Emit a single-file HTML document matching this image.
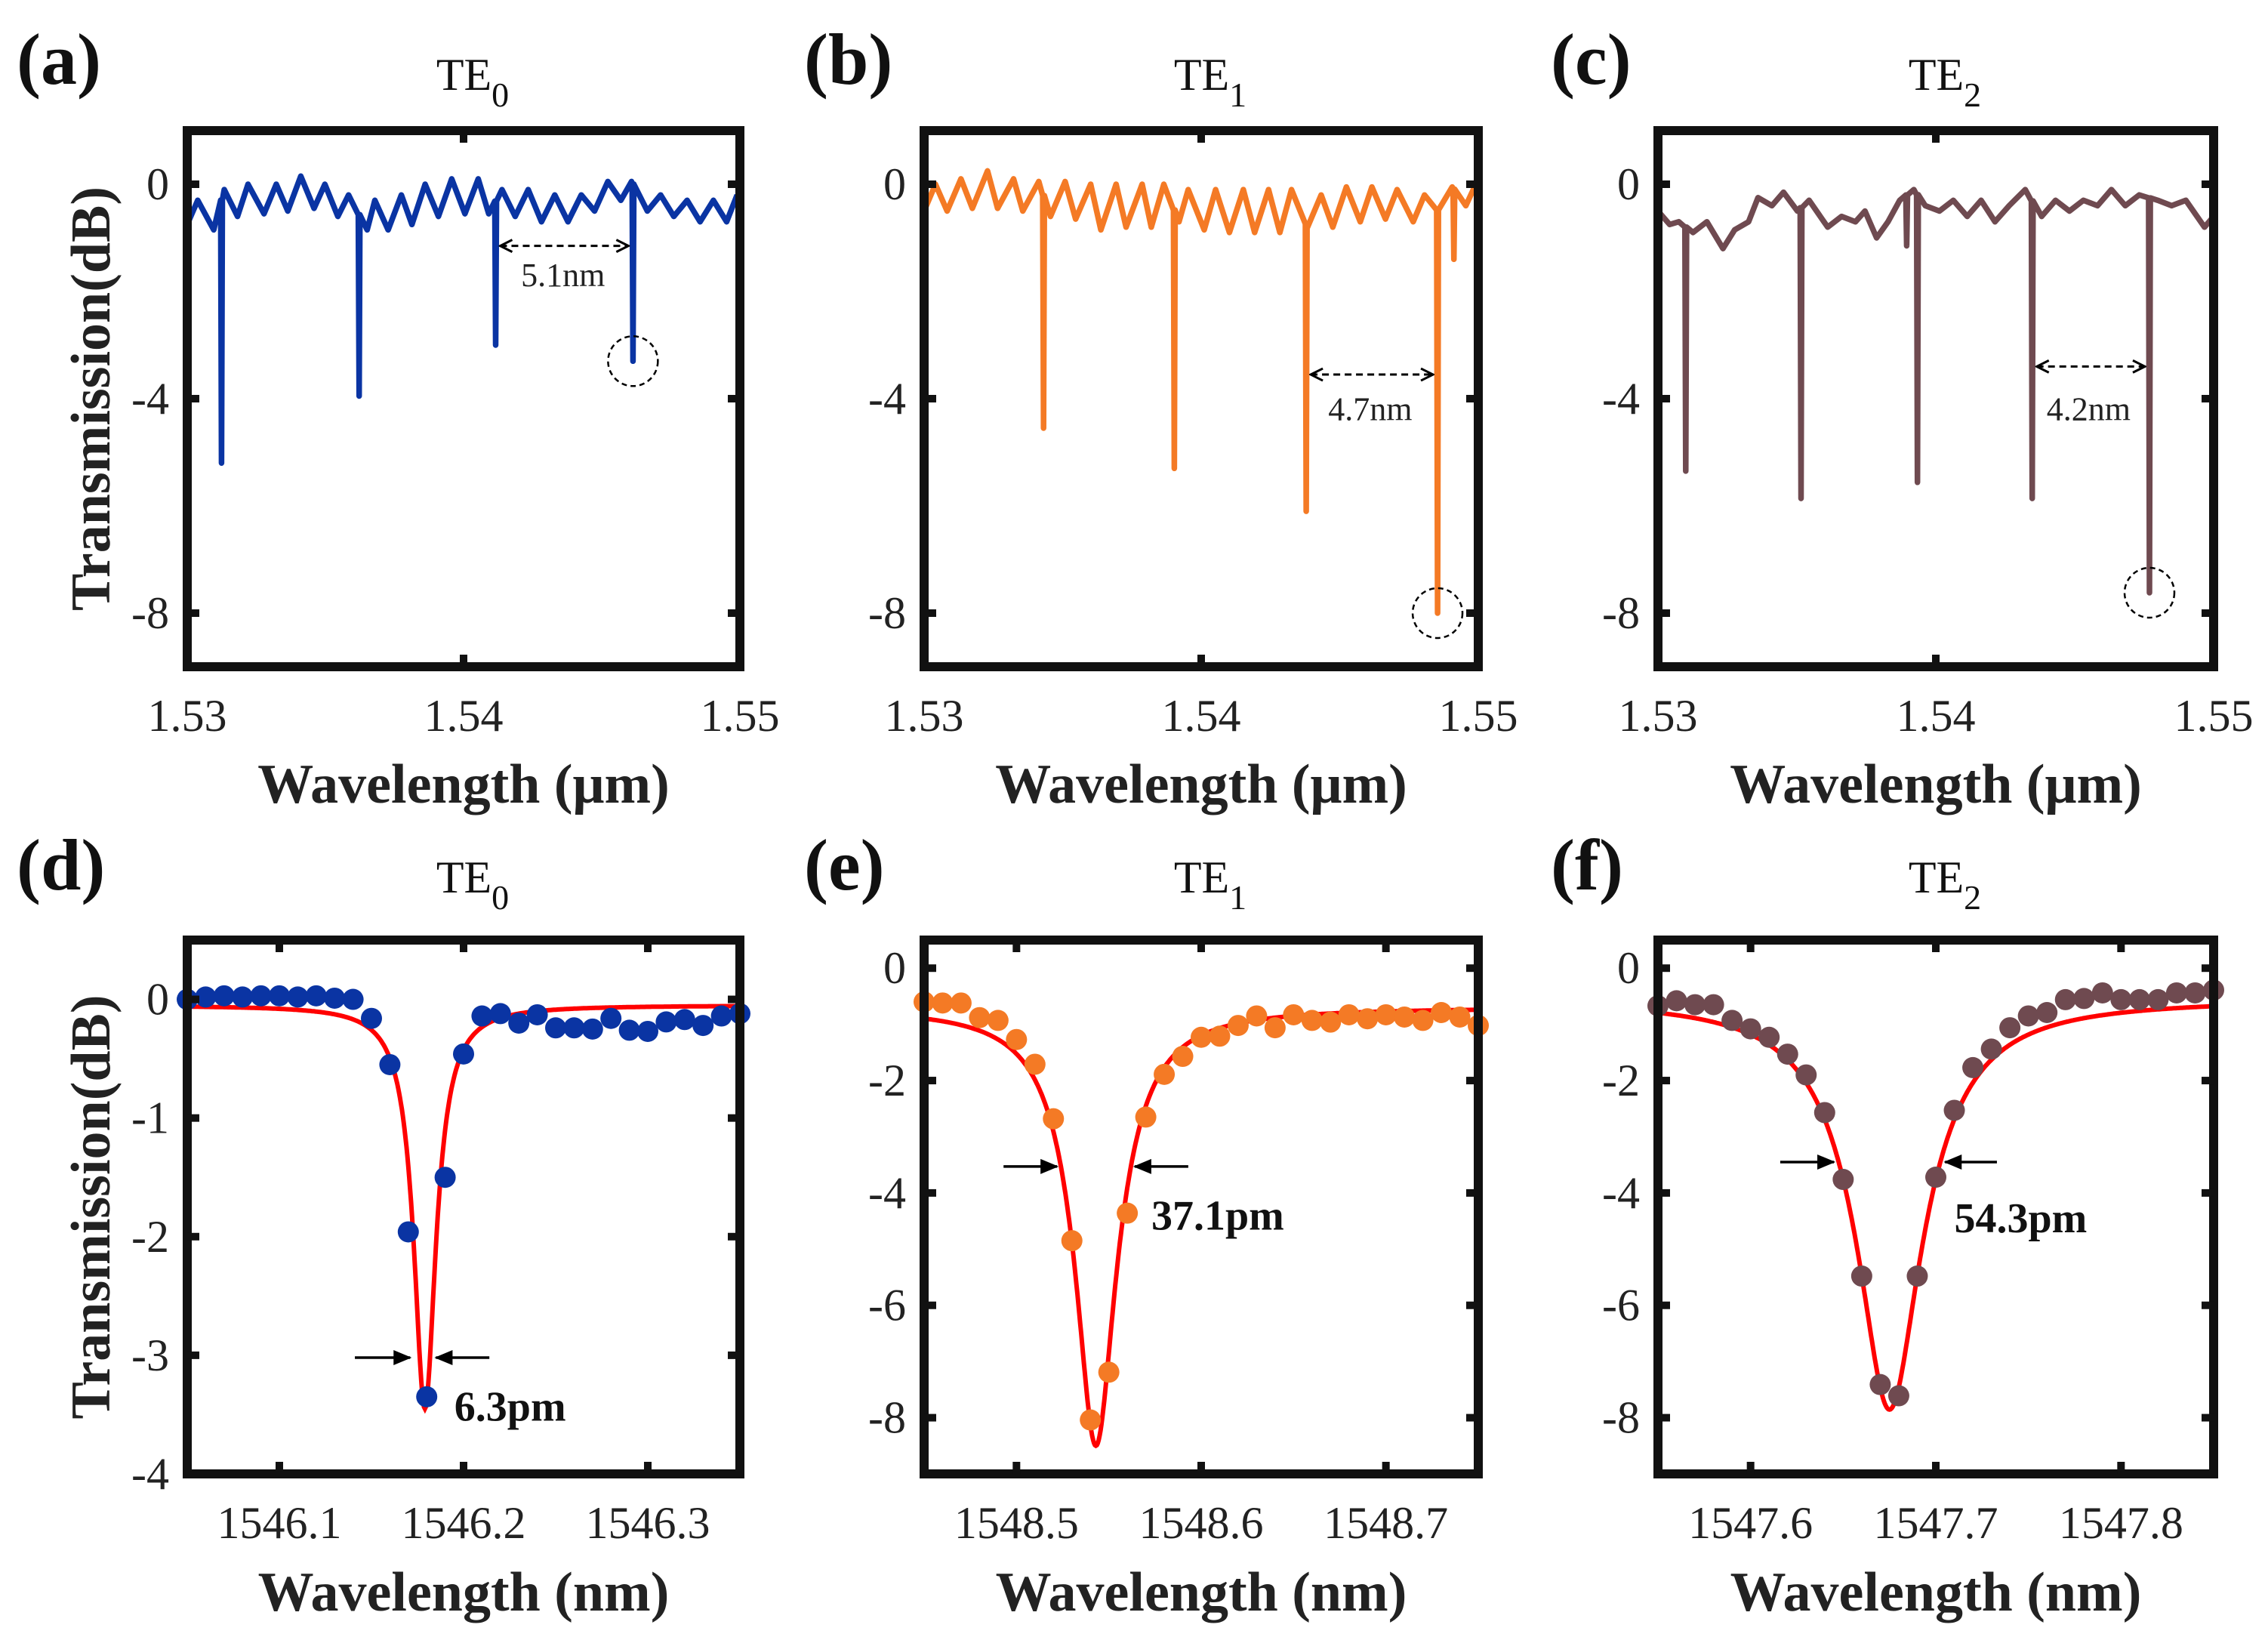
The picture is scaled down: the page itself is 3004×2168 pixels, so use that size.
<!DOCTYPE html>
<html><head><meta charset="utf-8">
<style>
html,body{margin:0;padding:0;background:#fff;}
svg{display:block;font-family:"Liberation Serif",serif;}
</style></head>
<body>
<svg id="fig" width="3004" height="2168" viewBox="0 0 3004 2168" xmlns="http://www.w3.org/2000/svg">
<defs>
<marker id="chev" viewBox="0 0 20 20" refX="18" refY="10" markerWidth="20" markerHeight="20" markerUnits="userSpaceOnUse" orient="auto-start-reverse">
<path d="M2,2 L18,10 L2,18" fill="none" stroke="#000" stroke-width="3"/>
</marker>
<marker id="tri" viewBox="0 0 24 24" refX="22" refY="12" markerWidth="24" markerHeight="24" markerUnits="userSpaceOnUse" orient="auto">
<path d="M0,2 L24,12 L0,22 Z" fill="#000"/>
</marker>
</defs>
</svg>
<script>
// ---------- data: top row spectra ----------
const aRippleX=[1.53,1.53038,1.53096,1.53134,1.53182,1.5322,1.53278,1.53322,1.53364,1.53411,1.53459,1.53498,1.53545,1.53584,1.53651,1.53679,1.53727,1.53775,1.53813,1.53861,1.53909,1.53957,1.54005,1.54053,1.54091,1.54139,1.54187,1.54234,1.54282,1.5433,1.54378,1.54426,1.54474,1.54522,1.54569,1.54608,1.54665,1.54713,1.54761,1.54809,1.54856,1.54904,1.54952,1.5499];
const aRippleY=[-0.75,-0.3,-0.85,-0.1,-0.6,0.0,-0.55,0.0,-0.5,0.15,-0.45,0.0,-0.6,-0.2,-0.85,-0.3,-0.85,-0.2,-0.75,0.0,-0.6,0.1,-0.55,0.1,-0.55,-0.1,-0.6,-0.1,-0.7,-0.2,-0.7,-0.2,-0.5,0.05,-0.3,0.05,-0.5,-0.2,-0.6,-0.3,-0.7,-0.3,-0.7,-0.2];
const aDipX=[1.53124,1.53622,1.54116,1.54613];
const aDipY=[-5.2,-3.95,-3.0,-3.3];

const bRippleX=[1.53,1.53041,1.53083,1.53133,1.53174,1.53229,1.53265,1.53323,1.53356,1.53414,1.53456,1.53509,1.53547,1.53601,1.53638,1.53693,1.53729,1.53787,1.5382,1.53865,1.5392,1.53953,1.54011,1.54052,1.54102,1.54152,1.54193,1.54243,1.54284,1.54326,1.54384,1.54433,1.54475,1.54524,1.54574,1.54616,1.54665,1.54707,1.54765,1.54806,1.54856,1.54906,1.54955,1.55];
const bRippleY=[-0.5,0.0,-0.5,0.1,-0.45,0.25,-0.45,0.1,-0.5,0.05,-0.6,0.05,-0.65,0.0,-0.85,0.0,-0.8,0.0,-0.8,0.0,-0.7,-0.1,-0.85,-0.1,-0.9,-0.1,-0.9,-0.1,-0.9,-0.1,-0.8,-0.2,-0.8,-0.05,-0.7,-0.05,-0.65,-0.1,-0.7,-0.2,-0.5,-0.05,-0.4,0.1];
const bDipX=[1.53431,1.53903,1.54379,1.54853,1.54912];
const bDipY=[-4.55,-5.3,-6.1,-8.0,-1.4];

const cRippleX=[1.53,1.53042,1.53075,1.53126,1.53176,1.53234,1.53276,1.53326,1.5336,1.5341,1.53452,1.53502,1.53544,1.53611,1.53661,1.53711,1.53745,1.53787,1.53828,1.5387,1.53921,1.53962,1.54013,1.54063,1.54113,1.54163,1.54213,1.54264,1.54322,1.54381,1.54431,1.54481,1.54531,1.54582,1.54632,1.54682,1.54732,1.54799,1.54849,1.549,1.54967,1.55];
const cRippleY=[-0.5,-0.75,-0.7,-0.9,-0.7,-1.2,-0.85,-0.7,-0.25,-0.4,-0.15,-0.5,-0.3,-0.8,-0.6,-0.7,-0.5,-1.0,-0.7,-0.3,-0.1,-0.4,-0.5,-0.3,-0.6,-0.3,-0.7,-0.4,-0.1,-0.6,-0.3,-0.5,-0.3,-0.4,-0.1,-0.4,-0.2,-0.3,-0.4,-0.3,-0.8,-0.6];
const cDipX=[1.5310,1.53515,1.53895,1.53934,1.54347,1.54769];
const cDipY=[-5.35,-5.86,-1.15,-5.56,-5.86,-7.62];

const topTicksX=[1.53,1.54,1.55];
const topTickLabelsX=["1.53","1.54","1.55"];
const topTicksY=[0,-4,-8];

// ---------- data: bottom row resonances ----------
const dX=[1546.05,1546.06,1546.07,1546.08,1546.09,1546.10,1546.11,1546.12,1546.13,1546.14,1546.15,1546.16,1546.17,1546.18,1546.19,1546.20,1546.21,1546.22,1546.23,1546.24,1546.25,1546.26,1546.27,1546.28,1546.29,1546.30,1546.31,1546.32,1546.33,1546.34,1546.35];
const dY=[0,0.02,0.03,0.02,0.03,0.03,0.02,0.03,0.01,0,-0.16,-0.55,-1.96,-3.35,-1.5,-0.46,-0.14,-0.12,-0.2,-0.13,-0.24,-0.24,-0.25,-0.16,-0.26,-0.27,-0.19,-0.17,-0.22,-0.14,-0.12];
const dFit=[1546.179,8.9,0.543,-0.05]; // center, half-width(pm), linear dip amplitude, baseline dB

const eX=[1548.45,1548.46,1548.47,1548.48,1548.49,1548.50,1548.51,1548.52,1548.53,1548.54,1548.55,1548.56,1548.57,1548.58,1548.59,1548.60,1548.61,1548.62,1548.63,1548.64,1548.65,1548.66,1548.67,1548.68,1548.69,1548.70,1548.71,1548.72,1548.73,1548.74,1548.75];
const eY=[-0.60,-0.62,-0.62,-0.88,-0.93,-1.27,-1.71,-2.68,-4.85,-8.04,-7.19,-4.36,-2.65,-1.89,-1.57,-1.23,-1.21,-1.02,-0.85,-1.06,-0.83,-0.93,-0.96,-0.83,-0.90,-0.83,-0.87,-0.93,-0.79,-0.87,-1.02];
const eFit=[1548.543,22,0.834,-0.7];

const fX=[1547.55,1547.56,1547.57,1547.58,1547.59,1547.60,1547.61,1547.62,1547.63,1547.64,1547.65,1547.66,1547.67,1547.68,1547.69,1547.70,1547.71,1547.72,1547.73,1547.74,1547.75,1547.76,1547.77,1547.78,1547.79,1547.80,1547.81,1547.82,1547.83,1547.84,1547.85];
const fY=[-0.67,-0.58,-0.65,-0.65,-0.93,-1.08,-1.23,-1.53,-1.90,-2.57,-3.76,-5.48,-7.41,-7.61,-5.48,-3.72,-2.53,-1.77,-1.44,-1.06,-0.85,-0.79,-0.56,-0.54,-0.44,-0.56,-0.56,-0.56,-0.44,-0.44,-0.39];
const fFit=[1547.675,33.5,0.814,-0.55];

const dTicksX=[1546.1,1546.2,1546.3];
const eTicksX=[1548.5,1548.6,1548.7];
const fTicksX=[1547.6,1547.7,1547.8];
const dTicksY=[0,-1,-2,-3,-4];
const efTicksY=[0,-2,-4,-6,-8];

// ---------- drawing ----------
const NS="http://www.w3.org/2000/svg";
const svg=document.getElementById('fig');
const FONT='"Liberation Serif", serif';
function mk(tag,attrs,parent){const e=document.createElementNS(NS,tag);for(const k in attrs)e.setAttribute(k,attrs[k]);if(tag==='text')e.setAttribute('font-family',FONT);(parent||svg).appendChild(e);return e;}

function makeAxes(L,R,T,B,x0,x1,y0,y1){
  return {sx:x=>L+(x-x0)/(x1-x0)*(R-L), sy:y=>T+(y1-y)/(y1-y0)*(B-T), L,R,T,B};
}

function drawFrame(g,ax,ticksX,labelsX,ticksY,labelsY,xTitle,yTitle,xLabBase,xTitleBase,name){
  const fr=mk('rect',{x:ax.L,y:ax.T,width:ax.R-ax.L,height:ax.B-ax.T,fill:'none',stroke:'#111','stroke-width':12},g);
  
  
  ticksX.forEach((v,i)=>{
    const x=ax.sx(v);
    mk('line',{x1:x,y1:ax.B,x2:x,y2:ax.B-16,stroke:'#111','stroke-width':10},g);
    mk('line',{x1:x,y1:ax.T,x2:x,y2:ax.T+16,stroke:'#111','stroke-width':10},g);
    const t=mk('text',{x:x,y:xLabBase,'text-anchor':'middle','font-size':60,fill:'#222'},g);
    t.textContent=labelsX[i];
    
    
  });
  ticksY.forEach((v,i)=>{
    const y=ax.sy(v);
    mk('line',{x1:ax.L,y1:y,x2:ax.L+16,y2:y,stroke:'#111','stroke-width':10},g);
    mk('line',{x1:ax.R,y1:y,x2:ax.R-16,y2:y,stroke:'#111','stroke-width':10},g);
    const t=mk('text',{x:ax.L-24,y:y+20,'text-anchor':'end','font-size':60,fill:'#222'},g);
    t.textContent=labelsY[i];
    
    
  });
  const xt=mk('text',{x:(ax.L+ax.R)/2,y:xTitleBase,'text-anchor':'middle','font-size':74,'font-weight':'bold',fill:'#222'},g);
  xt.textContent=xTitle;
  
  
  if(yTitle){
    const cy=(ax.T+ax.B)/2;
    const yt=mk('text',{x:145,y:cy,transform:`rotate(-90 145 ${cy})`,'text-anchor':'middle','font-size':74,'font-weight':'bold',fill:'#222'},g);
    yt.textContent=yTitle;
    
    
  }
}

function drawTitle(g,cx,base,sub,label,lx,lbase,name){
  const t=mk('text',{x:cx+12,y:base,'text-anchor':'middle','font-size':60,fill:'#111'},g);
  t.appendChild(document.createTextNode('TE'));
  const s=mk('tspan',{dy:22,'font-size':46},t);s.textContent=sub;
  
  
  const l=mk('text',{x:lx,y:lbase,'font-size':96,'font-weight':'bold',fill:'#111'},g);
  l.textContent=label;
  
  
}

function interp(xs,ys,x){
  for(let i=0;i<xs.length-1;i++){if(x>=xs[i]&&x<=xs[i+1]){const f=(x-xs[i])/(xs[i+1]-xs[i]);return ys[i]+f*(ys[i+1]-ys[i]);}}
  return ys[ys.length-1];
}

function topPanel(L,R,rx,ry,dx,dy,color,sub,label,lx,name,yTitle,arrowFrom,arrowTo,arrowY,txt,txtX,txtY,circI){
  const g=mk('g',{});
  
  
  const ax=makeAxes(L,R,173,883,1.53,1.55,-9,1);
  const pts=rx.map((x,i)=>[x,ry[i]]);
  dx.forEach((x,i)=>{const b=interp(rx,ry,x);pts.push([x-0.00003,b]);pts.push([x,dy[i]]);pts.push([x+0.00003,b]);});
  pts.sort((a,b)=>a[0]-b[0]);
  const d=pts.map((p,i)=>(i?'L':'M')+ax.sx(p[0]).toFixed(1)+','+ax.sy(p[1]).toFixed(1)).join(' ');
  const ln=mk('path',{d:d,fill:'none',stroke:color,'stroke-width':7.5,'stroke-linejoin':'round'},g);
  
  
  drawFrame(g,ax,topTicksX,topTickLabelsX,topTicksY,topTicksY.map(String),'Wavelength (μm)',yTitle,968,1063,name);
  const ar=mk('line',{x1:ax.sx(arrowFrom)+6,y1:ax.sy(arrowY),x2:ax.sx(arrowTo)-6,y2:ax.sy(arrowY),stroke:'#000','stroke-width':3,'stroke-dasharray':'9,6','marker-start':'url(#chev)','marker-end':'url(#chev)'},g);
  
  
  const tt=mk('text',{x:ax.sx(txtX),y:ax.sy(txtY),'text-anchor':'middle','font-size':44,fill:'#222'},g);
  tt.textContent=txt;
  
  
  const c=mk('circle',{cx:ax.sx(dx[circI]),cy:ax.sy(dy[circI]),r:33,fill:'none',stroke:'#000','stroke-width':2.5,'stroke-dasharray':'7,5'},g);
  
  
  drawTitle(g,(L+R)/2,119,sub,label,lx,111,name);
}

function bottomPanel(L,R,x0,x1,y0,xs,ys,fit,ticksX,ticksY,color,sub,label,lx,name,yTitle,arrows,arrowY,txt,txtX,txtY){
  const g=mk('g',{});
  
  
  const ax=makeAxes(L,R,1245,1952,x0,x1,y0,0.5);
  // Lorentzian fit curve (linear transmission, shown in dB)
  const fp=[];
  for(let k=0;k<=600;k++){const x=x0+(x1-x0)*k/600;const dd=(x-fit[0])*1000/fit[1];const T=1-fit[2]/(1+dd*dd);fp.push([x,fit[3]+10*Math.log10(T)]);}
  const d=fp.map((p,i)=>(i?'L':'M')+ax.sx(p[0]).toFixed(1)+','+ax.sy(p[1]).toFixed(1)).join(' ');
  const fl=mk('path',{d:d,fill:'none',stroke:'#ff0000','stroke-width':6},g);
  
  
  xs.forEach((x,i)=>{
    const m=mk('circle',{cx:ax.sx(x),cy:ax.sy(ys[i]),r:14,fill:color},g);
    
    
  });
  drawFrame(g,ax,ticksX,ticksX.map(v=>v.toFixed(1)),ticksY,ticksY.map(String),'Wavelength (nm)',yTitle,2037,2133,name);
  arrows.forEach(a=>{
    const ar=mk('line',{x1:ax.sx(a[0]),y1:ax.sy(arrowY),x2:ax.sx(a[1]),y2:ax.sy(arrowY),stroke:'#000','stroke-width':3.5,'marker-end':'url(#tri)'},g);
    
    
  });
  const tt=mk('text',{x:ax.sx(txtX),y:ax.sy(txtY),'font-size':56,'font-weight':'bold',fill:'#111'},g);
  tt.textContent=txt;
  
  
  drawTitle(g,(L+R)/2,1182,sub,label,lx,1178,name);
}

topPanel(248,980,aRippleX,aRippleY,aDipX,aDipY,'#0a34a3','0','(a)',22,'panel-a','Transmission(dB)',1.54116,1.54613,-1.15,'5.1nm',1.5436,-1.9,3);
topPanel(1224,1958,bRippleX,bRippleY,bDipX,bDipY,'#f47a25','1','(b)',1065,'panel-b',null,1.54379,1.54853,-3.55,'4.7nm',1.5461,-4.4,3);
topPanel(2196,2932,cRippleX,cRippleY,cDipX,cDipY,'#6f4a50','2','(c)',2054,'panel-c',null,1.54347,1.54769,-3.4,'4.2nm',1.5455,-4.4,5);

bottomPanel(248,980,1546.05,1546.35,-4,dX,dY,dFit,dTicksX,dTicksY,'#0a34a3','0','(d)',22,'panel-d','Transmission(dB)',[[1546.141,1546.171],[1546.214,1546.185]],-3.02,'6.3pm',1546.195,-3.55);
bottomPanel(1224,1958,1548.45,1548.75,-9,eX,eY,eFit,eTicksX,efTicksY,'#f47a25','1','(e)',1065,'panel-e',null,[[1548.493,1548.522],[1548.593,1548.564]],-3.53,'37.1pm',1548.573,-4.65);
bottomPanel(2196,2932,1547.55,1547.85,-9,fX,fY,fFit,fTicksX,efTicksY,'#6f4a50','2','(f)',2054,'panel-f',null,[[1547.616,1547.645],[1547.733,1547.705]],-3.45,'54.3pm',1547.710,-4.7);
</script>
</body></html>
